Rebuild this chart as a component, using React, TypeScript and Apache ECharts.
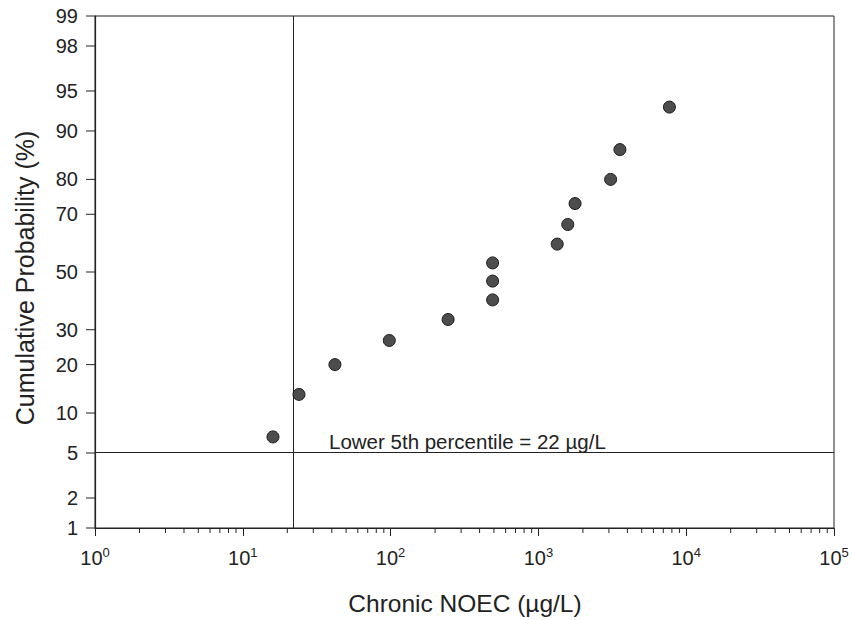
import React, { useEffect, useRef } from "react";
import * as echarts from "echarts";

// NOEC values (µg/L) and their cumulative probabilities (%)
const noecValues = [16, 24, 42, 98, 245, 490, 490, 490, 1340, 1580, 1770, 3080, 3560, 7700];
const cumProb = [6.7, 13.3, 20, 26.7, 33.3, 40, 46.7, 53.3, 60, 66.7, 73.3, 80, 86.7, 93.3];
// probability-axis tick labels
const yTicks = [1, 2, 5, 10, 20, 30, 50, 70, 80, 90, 95, 98, 99];
// log-axis minor tick structure
const decades = [1, 10, 100, 1000, 10000];
const minorMultipliers = [2, 3, 4, 5, 6, 7, 8, 9];
// hazard concentration lines
const hc5Conc = 22;
const hc5Pct = 5;
const annotation = "Lower 5th percentile = 22 µg/L";

const FONT = "'Liberation Sans', Arial, Helvetica, sans-serif";
const INK = "#222";

// inverse standard normal CDF (Acklam)
function probit(p: number): number {
  const a = [-39.69683028665376, 220.9460984245205, -275.9285104469687, 138.357751867269, -30.66479806614716, 2.506628277459239];
  const b = [-54.47609879822406, 161.5858368580409, -155.6989798598866, 66.80131188771972, -13.28068155288572];
  const c = [-0.007784894002430293, -0.3223964580411365, -2.400758277161838, -2.549732539343734, 4.374664141464968, 2.938163982698783];
  const d = [0.007784695709041462, 0.3224671290700398, 2.445134137142996, 3.754408661907416];
  const pl = 0.02425;
  let q: number, r: number;
  if (p < pl) {
    q = Math.sqrt(-2 * Math.log(p));
    return (((((c[0] * q + c[1]) * q + c[2]) * q + c[3]) * q + c[4]) * q + c[5]) / ((((d[0] * q + d[1]) * q + d[2]) * q + d[3]) * q + 1);
  } else if (p <= 1 - pl) {
    q = p - 0.5;
    r = q * q;
    return ((((((a[0] * r + a[1]) * r + a[2]) * r + a[3]) * r + a[4]) * r + a[5]) * q) / (((((b[0] * r + b[1]) * r + b[2]) * r + b[3]) * r + b[4]) * r + 1);
  } else {
    q = Math.sqrt(-2 * Math.log(1 - p));
    return -(((((c[0] * q + c[1]) * q + c[2]) * q + c[3]) * q + c[4]) * q + c[5]) / ((((d[0] * q + d[1]) * q + d[2]) * q + d[3]) * q + 1);
  }
}

export default function App() {
  const ref = useRef<HTMLDivElement>(null);

  useEffect(() => {
    if (!ref.current) return;
    const chart = echarts.init(ref.current, undefined, { renderer: "svg" });
    const zMin = probit(yTicks[0] / 100);
    const zMax = probit(yTicks[yTicks.length - 1] / 100);

    const points = noecValues.map((v, i) => [v, probit(cumProb[i] / 100)]);
    const yTickData = yTicks.map((p) => [1, probit(p / 100), p]);
    const minorData: number[][] = [];
    decades.forEach((d) => minorMultipliers.forEach((m) => minorData.push([d * m, zMin])));

    const option: any = {
      animation: false,
      backgroundColor: "#fff",
      grid: {
        left: 95,
        top: 16,
        width: 739,
        height: 512,
        show: true,
        borderColor: INK,
        borderWidth: 1,
        backgroundColor: "transparent",
      },
      xAxis: {
        type: "log",
        logBase: 10,
        min: 1,
        max: 100000,
        axisLine: { show: true, onZero: false, lineStyle: { color: INK, width: 1.2 } },
        axisTick: { show: true, inside: false, length: 8, lineStyle: { color: INK } },
        splitLine: { show: false },
        axisLabel: {
          margin: 18,
          color: INK,
          fontFamily: FONT,
          fontSize: 20,
          formatter: (v: number) => `10{sup|${Math.round(Math.log10(v))}}`,
          rich: {
            sup: { fontSize: 13, fontFamily: FONT, color: INK, verticalAlign: "top", padding: [0, 0, 10, 0] },
          },
        },
      },
      yAxis: {
        type: "value",
        min: zMin,
        max: zMax,
        axisLine: { show: true, onZero: false, lineStyle: { color: INK, width: 1.2 } },
        axisTick: { show: false },
        axisLabel: { show: false },
        splitLine: { show: false },
      },
      series: [
        {
          type: "scatter",
          data: points,
          symbol: "circle",
          symbolSize: 12,
          itemStyle: { color: "#4d4d4d", borderColor: "#1a1a1a", borderWidth: 1, opacity: 1 },
          markLine: {
            silent: true,
            symbol: ["none", "none"],
            label: { show: false },
            lineStyle: { color: INK, width: 1, type: "solid" },
            data: [{ xAxis: hc5Conc }, { yAxis: probit(hc5Pct / 100) }],
          },
          z: 5,
        },
        {
          type: "custom",
          data: yTickData,
          encode: { x: 0, y: 1 },
          silent: true,
          renderItem: (_params: any, api: any) => {
            const p = api.coord([api.value(0), api.value(1)]);
            return {
              type: "group",
              children: [
                { type: "line", shape: { x1: p[0] - 9, y1: p[1], x2: p[0], y2: p[1] }, style: { stroke: INK, lineWidth: 1 } },
                {
                  type: "text",
                  x: p[0] - 17,
                  y: p[1],
                  style: {
                    text: String(api.value(2)),
                    align: "right",
                    verticalAlign: "middle",
                    fontSize: 20,
                    fontFamily: FONT,
                    fill: INK,
                  },
                },
              ],
            };
          },
        },
        {
          type: "custom",
          data: minorData,
          encode: { x: 0, y: 1 },
          silent: true,
          renderItem: (_params: any, api: any) => {
            const p = api.coord([api.value(0), api.value(1)]);
            return { type: "line", shape: { x1: p[0], y1: p[1], x2: p[0], y2: p[1] + 5 }, style: { stroke: INK, lineWidth: 1 } };
          },
        },
      ],
      graphic: [
        {
          type: "text",
          x: 329,
          y: 441,
          style: { text: annotation, fontSize: 20.5, fontFamily: FONT, fill: INK, align: "left", verticalAlign: "middle" },
        },
        {
          type: "text",
          x: 465,
          y: 603,
          style: { text: "Chronic NOEC (µg/L)", fontSize: 24.5, fontFamily: FONT, fill: INK, align: "center", verticalAlign: "middle" },
        },
        {
          type: "text",
          x: 25,
          y: 278,
          rotation: Math.PI / 2,
          style: { text: "Cumulative Probability (%)", fontSize: 25, fontFamily: FONT, fill: INK, align: "center", verticalAlign: "middle" },
        },
      ],
    };
    chart.setOption(option);
    return () => chart.dispose();
  }, []);

  return <div ref={ref} style={{ position: "absolute", left: 0, top: 0, width: 852, height: 620 }} />;
}
